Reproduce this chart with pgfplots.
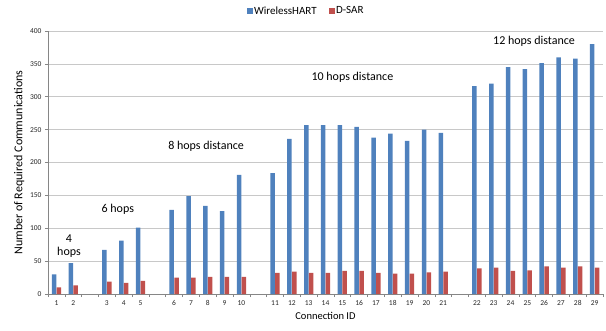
\documentclass[border=0pt]{standalone}
\usepackage{pgfplots}
\pgfplotsset{compat=1.18}
\usepackage{pgfplotstable}
\usepackage{fontspec}
\setmainfont{Carlito}
\definecolor{xblue}{HTML}{4F81BD}
\definecolor{xred}{HTML}{C0504D}
\definecolor{axgray}{HTML}{868686}
\definecolor{grgray}{HTML}{C8C8C8}
\pgfplotstableread{
pos id blue red
0 1 30 10
1 2 47 13
3 3 67 19
4 4 81 17
5 5 101 20
7 6 128 25
8 7 149 25
9 8 134 26
10 9 126 26
11 10 181 26
13 11 184 32
14 12 236 34
15 13 257 32
16 14 257 32
17 15 257 35
18 16 254 35
19 17 238 32
20 18 244 31
21 19 233 31
22 20 250 33
23 21 245 34
25 22 316 39
26 23 320 40
27 24 345 35
28 25 342 36
29 26 351 42
30 27 360 40
31 28 358 42
32 29 380 40
}\data
\begin{document}
\begin{tikzpicture}
\begin{axis}[
  scale only axis,
  width=555pt, height=263pt,
  xmin=-0.5, xmax=32.5,
  ymin=0, ymax=400,
  ytick={0,50,...,400},
  xtick=data,
  xticklabels from table={\data}{id},
  minor xtick={-0.5,0.5,...,32.5},
  axis lines*=left,
  axis line style={draw=axgray, line width=0.6pt},
  ymajorgrids,
  grid style={draw=grgray, line width=0.6pt},
  tick align=outside,
  major tick length=3pt,
  minor tick length=3pt,
  x tick style={draw=none},
  minor x tick style={draw=axgray, line width=0.6pt},
  y tick style={draw=axgray, line width=0.6pt},
  ticklabel style={font=\fontsize{7.5}{8}\selectfont, text=black!85},
  /pgf/number format/assume math mode=true,
  xlabel={Connection ID},
  ylabel={Number of Required Communications},
  xlabel style={font=\fontsize{10.5}{12}\selectfont},
  ylabel style={font=\fontsize{12}{13}\selectfont, yshift=-1pt},
  ybar, bar width=4.5pt,
  legend columns=2,
  legend style={draw=none, at={(axis description cs:0.465,1)}, anchor=center, yshift=20pt,
    font=\fontsize{11}{12}\selectfont, inner sep=0pt,
    nodes={inner sep=1.5pt}},
  legend image code/.code={\fill[#1] (0pt,-2.7pt) rectangle (5.5pt,2.8pt);},
]
\addplot[draw=none, fill=xblue, bar shift=-2.4pt] table[x=pos, y=blue] {\data};
\addplot[draw=none, fill=xred, bar shift=2.4pt] table[x=pos, y=red] {\data};
\legend{WirelessHART\hspace*{11pt}, D-SAR}
\node[font=\fontsize{12}{13}\selectfont, align=center] at (axis cs:0.75,73) {4\\hops};
\node[font=\fontsize{12}{13}\selectfont] at (axis cs:3.65,129) {6 hops};
\node[font=\fontsize{12}{13}\selectfont] at (axis cs:8.9,224) {8 hops distance};
\node[font=\fontsize{12}{13}\selectfont] at (axis cs:17.6,330) {10 hops distance};
\node[font=\fontsize{12}{13}\selectfont] at (axis cs:28.4,385) {12 hops distance};
\coordinate (ll) at (rel axis cs:0,0);
\coordinate (ur) at (rel axis cs:1,1);
\end{axis}
\pgfresetboundingbox
\path ([shift={(-48pt,-37pt)}]ll) rectangle ([shift={(3pt,31pt)}]ur);
\end{tikzpicture}
\end{document}
